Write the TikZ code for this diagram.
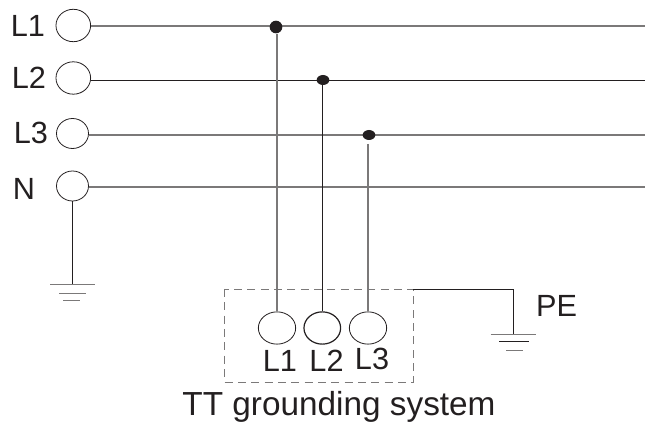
\documentclass[tikz,border=0pt]{standalone}
\usepackage{fontspec}
\setmainfont{Liberation Sans}
\usetikzlibrary{shapes.geometric}
\definecolor{inkdark}{HTML}{231F20}
\tikzset{
  terminal/.style={draw=inkdark, ellipse, line width=0.6pt, inner sep=0pt, minimum width=#1},
  terminal/.default=26pt,
  dot/.style={fill=inkdark, ellipse, inner sep=0pt, minimum width=9.5pt, minimum height=7.5pt},
  txt/.style={text=inkdark, font=\fontsize{23}{23}\selectfont, inner sep=0pt},
  wire/.style={draw=inkdark, line width=0.65pt},
  greywire/.style={draw=inkdark!60, line width=0.9pt}
}
\begin{document}
\begin{tikzpicture}[x=0.75pt,y=-0.75pt]
\useasboundingbox (0,0) rectangle (645,423);

% draw supply terminals
\node (t1) [terminal, minimum height=24.3pt] at (73.3,25.5) {};
\node (t2) [terminal, minimum height=24.3pt] at (73.3,78) {};
\node (t3) [terminal=24pt, minimum height=22.5pt] at (72.5,133.5) {};
\node (tn) [terminal=24pt, minimum height=22.5pt] at (72.5,186) {};

\node (l1) [txt] at (28,26) {L1};
\node (l2) [txt] at (29,77.5) {L2};
\node (l3) [txt] at (31,133) {L3};
\node (ln) [txt] at (24,188.5) {N};

% draw supply lines
\coordinate (e1) at (645,26);
\coordinate (e2) at (645,80);
\coordinate (e3) at (645,135);
\coordinate (en) at (645,187);
\draw [greywire] (t1.east |- e1) -- (e1);
\draw [wire] (t2.east |- e2) -- (e2);
\draw [greywire] (t3.east |- e3) -- (e3);
\draw [greywire] (tn.east |- en) -- (en);

% draw dashed box and load terminals
\draw [draw=inkdark!60, line width=0.5pt, dash pattern=on 6pt off 4pt] (224.7,289) coordinate (boxa) rectangle (413.3,382.3) coordinate (boxb);
\node (r1) [terminal=28pt, minimum height=24.2pt] at (277,328) {};
\node (r2) [terminal=27.5pt, minimum height=24.2pt, line width=0.9pt] at (322.3,328) {};
\node (r3) [terminal=28pt, minimum height=24.2pt] at (368,328) {};

\node (s1) [txt] at (280,361) {L1};
\node (s2) [txt] at (326.5,361) {L2};
\node (s3) [txt] at (372,359) {L3};

% draw junctions and drops
\node (d1) [dot, minimum height=9.5pt] at (276,27) {};
\node (d2) [dot] at (323,80) {};
\node (d3) [dot] at (369,135) {};
\coordinate (gap) at (368,144);
\draw [greywire] (d1.south -| r1) -- (r1.north);
\draw [wire] (d2.south -| r2) -- (r2.north);
\draw [greywire] (gap) -- (r3.north);

% draw neutral ground
\coordinate (ga) at (72.3,284.7);
\draw [wire] (tn.south) -- (tn.south |- ga);
\draw [greywire] (50,284.7) coordinate (ga1) -- (95,284.7) coordinate (ga2);
\draw [greywire] (59,293.7) coordinate (gb1) -- (86,293.7) coordinate (gb2);
\draw [greywire] (63.3,300.7) coordinate (gc1) -- (79.7,300.7) coordinate (gc2);

% draw PE ground
\coordinate (pa) at (413.3,289);
\coordinate (pb) at (513.3,334.3);
\draw [wire] (pa) -| (pb);
\draw [greywire] (490.7,334.3) coordinate (pc1) -- (536,334.3) coordinate (pc2);
\draw [wire] (499,341) coordinate (pd1) -- (529,341) coordinate (pd2);
\draw [greywire] (506,350.3) coordinate (pe1) -- (522.7,350.3) coordinate (pe2);

\node (pe) [txt] at (556.5,305.5) {PE};
\node (title) [txt, font=\fontsize{25}{25}\selectfont] at (339,407) {TT grounding system};

\end{tikzpicture}
\end{document}
